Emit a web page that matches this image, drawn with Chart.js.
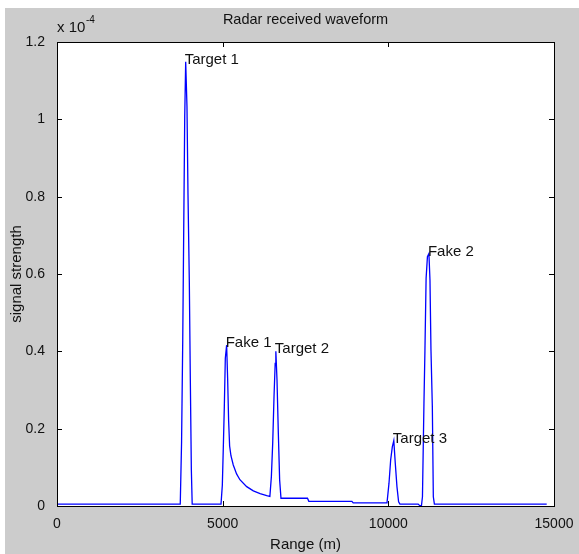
<!DOCTYPE html>
<html>
<head>
<meta charset="utf-8">
<script src="https://cdn.jsdelivr.net/npm/chart.js@4.4.1/dist/chart.umd.min.js"></script>
<style>
  html, body { margin: 0; padding: 0; background: #fff; }
</style>
</head>
<body>
<canvas id="radar" width="579" height="554"></canvas>
<script>
// Radar received waveform (signal in units of 1e-4)

const rangeM = [
  0, 3720, 3760, 3795, 3825, 3855, 3884, 3923, 3954, 3994, 4024, 4055, 4080,
  4950, 4990, 5020, 5050, 5080, 5120, 5150, 5180, 5210, 5250, 5320, 5420, 5520, 5725, 5925, 6130, 6330, 6425,
  6470, 6510, 6550, 6585, 6605, 6640, 6680, 6720, 6760,
  7560, 7600, 8900, 8940, 9960,
  10020, 10070, 10120, 10165, 10210, 10260, 10310, 10350,
  10900, 10950, 11000, 11030, 11075, 11105, 11140, 11180, 11225, 11257, 11287, 11328, 11358, 11390, 14780,
];

const signal = [
  0.005, 0.005, 0.166, 0.429, 0.718, 1.007, 1.149, 1.033, 0.804, 0.576, 0.326, 0.093, 0.005,
  0.005, 0.054, 0.153, 0.257, 0.382, 0.416, 0.33, 0.22, 0.155, 0.13, 0.106, 0.083, 0.068, 0.05, 0.039, 0.032, 0.027, 0.025,
  0.076, 0.162, 0.283, 0.369, 0.40, 0.326, 0.188, 0.067, 0.02,
  0.02, 0.012, 0.012, 0.008, 0.008,
  0.059, 0.119, 0.153, 0.169, 0.110, 0.050, 0.011, 0.005,
  0.005, 0.001, 0.001, 0.024, 0.266, 0.403, 0.589, 0.645, 0.653, 0.584, 0.403, 0.257, 0.024, 0.005, 0.005,
];

const peakNames  = ['Target 1', 'Fake 1', 'Target 2', 'Target 3', 'Fake 2'];
const peakRange  = [3884, 5120, 6605, 10165, 11225];
const peakSignal = [1.149, 0.416, 0.40, 0.169, 0.653];

const xTicks = [0, 5000, 10000, 15000];
const yTicks = [0, 0.2, 0.4, 0.6, 0.8, 1.0, 1.2];

const FONT = '"Liberation Sans", Arial, sans-serif';
const TEXT = '#111';

const matlabFrame = {
  id: 'matlabFrame',
  beforeDraw(chart) {
    const { ctx, chartArea: a } = chart;
    ctx.save();
    ctx.fillStyle = '#fff';
    ctx.fillRect(0, 0, chart.width, chart.height);
    ctx.fillStyle = '#cccccc';
    ctx.fillRect(5, 8, chart.width - 5, chart.height - 8);
    ctx.fillStyle = '#fff';
    ctx.fillRect(a.left, a.top, a.right - a.left, a.bottom - a.top);
    ctx.restore();
  },
  afterDraw(chart) {
    const { ctx, chartArea: a } = chart;
    const xs = chart.scales.x, ys = chart.scales.y;
    ctx.save();

    // box + inward ticks
    ctx.strokeStyle = '#000';
    ctx.lineWidth = 1;
    ctx.strokeRect(Math.round(a.left) + 0.5, Math.round(a.top) + 0.5,
      Math.round(a.right - a.left), Math.round(a.bottom - a.top));
    ctx.beginPath();
    xTicks.forEach(v => {
      const p = Math.round(xs.getPixelForValue(v)) + 0.5;
      ctx.moveTo(p, a.bottom); ctx.lineTo(p, a.bottom - 5);
      ctx.moveTo(p, a.top); ctx.lineTo(p, a.top + 5);
    });
    yTicks.forEach(v => {
      const p = Math.round(ys.getPixelForValue(v)) + 0.5;
      ctx.moveTo(a.left, p); ctx.lineTo(a.left + 5, p);
      ctx.moveTo(a.right, p); ctx.lineTo(a.right - 5, p);
    });
    ctx.stroke();

    ctx.fillStyle = TEXT;
    ctx.textBaseline = 'middle';

    // title
    ctx.font = `14.5px ${FONT}`;
    ctx.textAlign = 'center';
    ctx.fillText('Radar received waveform', (a.left + a.right) / 2, 20);

    // exponent
    ctx.textAlign = 'left';
    ctx.font = `15px ${FONT}`;
    ctx.fillText('x 10', a.left, 28);
    ctx.font = `10px ${FONT}`;
    ctx.fillText('-4', a.left + 29, 20);

    // axis titles
    ctx.font = `15px ${FONT}`;
    ctx.textAlign = 'center';
    ctx.fillText('Range (m)', (a.left + a.right) / 2, 545);
    ctx.save();
    ctx.translate(17, (a.top + a.bottom) / 2);
    ctx.rotate(-Math.PI / 2);
    ctx.fillText('signal strength', 0, 0);
    ctx.restore();

    // peak labels
    ctx.textAlign = 'left';
    ctx.font = `15px ${FONT}`;
    peakNames.forEach((name, i) => {
      const px = xs.getPixelForValue(peakRange[i]);
      const py = ys.getPixelForValue(peakSignal[i]);
      ctx.fillText(name, px - 1, py - 2);
    });

    ctx.restore();
  },
};

new Chart(document.getElementById('radar'), {
  type: 'line',
  data: {
    datasets: [{
      data: rangeM.map((r, i) => ({ x: r, y: signal[i] })),
      borderColor: '#0000ff',
      borderWidth: 1.3,
      pointRadius: 0,
      tension: 0,
      fill: false,
    }],
  },
  options: {
    responsive: false,
    animation: false,
    layout: { padding: { top: 42, right: 25, left: 0, bottom: 0 } },
    plugins: { legend: { display: false }, tooltip: { enabled: false }, title: { display: false } },
    scales: {
      x: {
        type: 'linear',
        min: 0,
        max: 15000,
        afterBuildTicks: s => { s.ticks = xTicks.map(v => ({ value: v })); },
        afterFit: s => { s.height = 48; },
        grid: { display: false },
        border: { display: false },
        ticks: {
          color: TEXT,
          padding: 2,
          maxRotation: 0,
          font: { family: FONT, size: 14 },
          callback: v => String(v),
        },
      },
      y: {
        type: 'linear',
        min: 0,
        max: 1.2,
        afterBuildTicks: s => { s.ticks = yTicks.map(v => ({ value: v })); },
        afterFit: s => { s.width = 57; },
        grid: { display: false },
        border: { display: false },
        ticks: {
          color: TEXT,
          padding: 4,
          font: { family: FONT, size: 14 },
          callback: v => String(Number(v.toFixed(1))),
        },
      },
    },
  },
  plugins: [matlabFrame],
});
</script>
</body>
</html>
